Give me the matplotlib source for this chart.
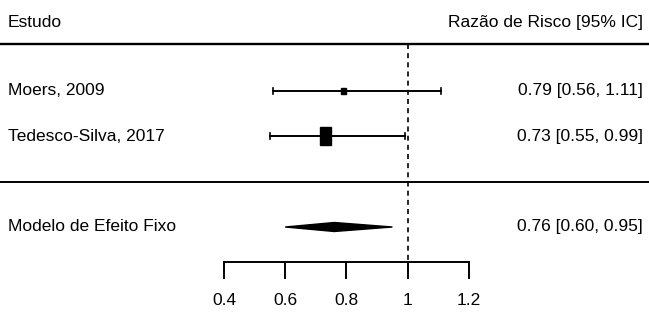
import matplotlib.pyplot as plt
from matplotlib.patches import Rectangle, Polygon

# Dados dos estudos
studies = ['Moers, 2009', 'Tedesco-Silva, 2017']
rr = [0.79, 0.73]
ci_low = [0.56, 0.55]
ci_high = [1.11, 0.99]
weights = [0.25, 1.0]   # tamanho relativo do quadrado

model_label = 'Modelo de Efeito Fixo'
model_rr = 0.76
model_low = 0.60
model_high = 0.95

xticks = [0.4, 0.6, 0.8, 1.0, 1.2]
xtick_labels = ['0.4', '0.6', '0.8', '1', '1.2']

plt.rcParams['font.family'] = ['Liberation Sans', 'DejaVu Sans']
FS = 12.5

fig = plt.figure(figsize=(6.49, 3.22), dpi=100)
ax = fig.add_axes([0, 0, 1, 1])
ax.set_xlim(-0.3314, 1.7878)
ax.set_ylim(-3.133, 4.022)
ax.axis('off')

# conversão px -> dados
px_x = 1 / 306.25
px_y = 1 / 45.0

rows = [2, 1]
x_text_left = -0.3314 + 8 * px_x
x_text_right = 1.7878 - 6 * px_x

# cabeçalho
ax.text(x_text_left, 3.53, 'Estudo', fontsize=FS, ha='left', va='center')
ax.text(x_text_right, 3.53, 'Razão de Risco [95% IC]', fontsize=FS, ha='right', va='center')
ax.axhline(3.044, color='black', lw=1.7)
ax.axhline(-0.022, color='black', lw=1.4)

# linha de referência
ax.plot([1.0, 1.0], [3.044, -1.8], color='black', lw=1.2, ls=(0, (3, 2.5)))

for name, est, lo, hi, w, y in zip(studies, rr, ci_low, ci_high, weights, rows):
    ax.plot([lo, hi], [y, y], color='black', lw=1.4)
    for e in (lo, hi):
        ax.plot([e, e], [y - 3 * px_y, y + 3 * px_y], color='black', lw=1.2)
    sw = (3 + 8 * w) * px_x
    sh = (3 + 14 * w) * px_y
    ax.add_patch(Rectangle((est - sw / 2, y - sh / 2), sw, sh, color='black'))
    ax.text(x_text_left, y, name, fontsize=FS, ha='left', va='center')
    ax.text(x_text_right, y, f'{est:.2f} [{lo:.2f}, {hi:.2f}]', fontsize=FS,
            ha='right', va='center')

# modelo
ym = -1.022
h = 4.5 * px_y
ax.add_patch(Polygon([(model_low, ym), (model_rr, ym + h), (model_high, ym), (model_rr, ym - h)],
                     closed=True, color='black'))
ax.text(x_text_left, ym, model_label, fontsize=FS, ha='left', va='center')
ax.text(x_text_right, ym, f'{model_rr:.2f} [{model_low:.2f}, {model_high:.2f}]', fontsize=FS,
        ha='right', va='center')

# eixo x
y_axis = -1.8
ax.plot([xticks[0], xticks[-1]], [y_axis, y_axis], color='black', lw=1.4)
for t, lab in zip(xticks, xtick_labels):
    ax.plot([t, t], [y_axis, y_axis - 16 * px_y], color='black', lw=1.4)
    ax.text(t, y_axis - 38 * px_y, lab, fontsize=FS, ha='center', va='center')

fig.savefig('out.png', dpi=100)
